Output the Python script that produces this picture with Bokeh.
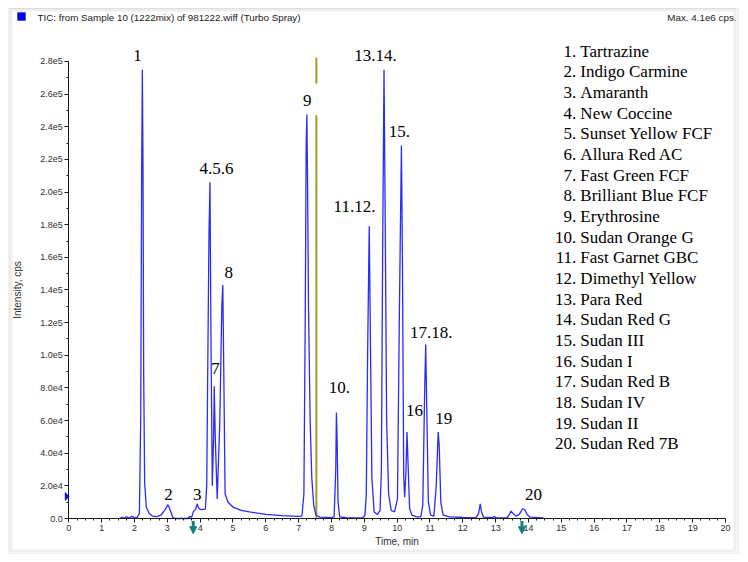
from bokeh.plotting import figure
from bokeh.models import (Label, BoxAnnotation, PolyAnnotation, Arrow, NormalHead,
                          FixedTicker, Range1d)
from bokeh.embed import file_html
from bokeh.resources import INLINE

# ---------------- data ----------------
time_min = [1.55, 1.62, 1.68, 1.76, 1.84, 1.92, 1.99, 2.08, 2.15, 2.19, 2.22, 2.24, 2.26, 2.28,
            2.31, 2.36, 2.45, 2.55, 2.68, 2.80, 2.92, 3.02, 3.09, 3.17, 3.25, 3.62, 3.68, 3.74,
            3.80, 3.86, 3.91, 3.95, 4.01, 4.16, 4.20, 4.24, 4.27, 4.30, 4.33, 4.37, 4.41, 4.43,
            4.46, 4.52, 4.60, 4.66, 4.69, 4.72, 4.76, 4.85, 5.00, 5.25, 5.50, 6.00, 6.50, 7.00,
            7.10, 7.16, 7.20, 7.23, 7.25, 7.27, 7.30, 7.35, 7.40, 7.46, 7.53, 7.65, 8.00, 8.08,
            8.13, 8.15, 8.17, 8.20, 8.25, 8.50, 8.95, 9.02, 9.06, 9.10, 9.15, 9.18, 9.23, 9.30,
            9.40, 9.48, 9.52, 9.56, 9.60, 9.63, 9.68, 9.74, 9.82, 9.92, 10.01, 10.07, 10.13,
            10.16, 10.20, 10.23, 10.27, 10.30, 10.33, 10.38, 10.45, 10.60, 10.72, 10.78, 10.84,
            10.87, 10.90, 10.95, 11.02, 11.12, 11.19, 11.25, 11.28, 11.33, 11.40, 11.60, 12.00,
            12.40, 12.48, 12.53, 12.57, 12.63, 12.90, 12.96, 13.02, 13.35, 13.43, 13.47, 13.53,
            13.62, 13.72, 13.82, 13.88, 13.96, 14.05, 14.45]
intensity = [0, 700, 200, 1000, 300, 1300, 500, 600, 3000, 60000, 215000, 275000, 215000, 90000,
             22000, 7000, 3000, 1500, 1200, 2000, 5000, 8500, 5000, 500, 0, 0, 1200, 800,
             4500, 5500, 9000, 6500, 5500, 5800, 20000, 110000, 175000, 206000, 110000, 20000, 50000, 81000,
             50000, 12000, 60000, 130000, 143000, 90000, 15000, 10000, 7000, 5000, 4000, 2500, 1800, 1300,
             1500, 15000, 120000, 230000, 247500, 210000, 130000, 60000, 25000, 8000, 2000, 800, 500, 1000,
             30000, 65000, 50000, 10000, 1000, 300, 500, 2000, 15000, 100000, 179000, 120000, 25000, 4000,
             2500, 5000, 30000, 170000, 275000, 200000, 60000, 15000, 5000, 4000, 12000, 130000, 228500,
             160000, 25000, 13000, 30000, 53000, 35000, 6000, 2000, 1000, 1000, 8000, 80000,
             106600, 70000, 10000, 2000, 1500, 20000, 53000, 45000, 10000, 2000, 1000, 600,
             500, 3000, 9000, 4000, 800, 500, 1200, 400, 500, 3000, 4500, 3000,
             1500, 2500, 6000, 5500, 2500, 800, 300]

x_tick_values = list(range(0, 21))
y_tick_values = [0, 20000, 40000, 60000, 80000, 100000, 120000, 140000, 160000, 180000,
                 200000, 220000, 240000, 260000, 280000]
y_tick_labels = ["0.0", "2.0e4", "4.0e4", "6.0e4", "8.0e4", "1.0e5", "1.2e5", "1.4e5", "1.6e5",
                 "1.8e5", "2.0e5", "2.2e5", "2.4e5", "2.6e5", "2.8e5"]

peak_labels = ["1", "2", "3", "4.5.6", "7", "8", "9", "10.", "11.12.", "13.14.", "15.", "16",
               "17.18.", "19", "20"]
peak_label_t = [2.09, 3.04, 3.91, 4.50, 4.47, 4.87, 7.26, 8.24, 8.70, 9.34, 10.07, 10.53,
                11.04, 11.42, 14.15]
peak_label_y = [283700, 14700, 14700, 214300, 91700, 150900, 256100, 80000, 191200, 283700,
                237300, 66200, 114100, 61500, 14700]

compound_numbers = ["1.", "2.", "3.", "4.", "5.", "6.", "7.", "8.", "9.", "10.", "11.", "12.",
                    "13.", "14.", "15.", "16.", "17.", "18.", "19.", "20."]
compound_names = ["Tartrazine", "Indigo Carmine", "Amaranth", "New Coccine", "Sunset Yellow FCF",
                  "Allura Red AC", "Fast Green FCF", "Brilliant Blue FCF", "Erythrosine",
                  "Sudan Orange G", "Fast Garnet GBC", "Dimethyl Yellow", "Para Red",
                  "Sudan Red G", "Sudan III", "Sudan I", "Sudan Red B", "Sudan IV", "Sudan II",
                  "Sudan Red 7B"]

header_text = "TIC: from Sample 10 (1222mix) of 981222.wiff (Turbo Spray)"
max_text = "Max. 4.1e6 cps."

cursor_time = 7.54
cursor_low = [0, 247000]
cursor_high = [266500, 282500]
marker_times = [3.79, 13.8]
threshold_level = 13500

# ---------------- figure (frame spans the whole canvas, axes at fixed positions) -------------
W, H = 740, 554
PX_PER_MIN = 32.835
UNITS_PER_PX = 612.69
X0_PX, Y0_PX = 68.3, 518.0
x_start = -X0_PX / PX_PER_MIN
x_end = x_start + W / PX_PER_MIN
y_start = -(H - Y0_PX) * UNITS_PER_PX
y_end = Y0_PX * UNITS_PER_PX

p = figure(width=W, height=H, x_range=Range1d(x_start, x_end), y_range=Range1d(y_start, y_end),
           output_backend="svg", toolbar_location=None, title=None,
           min_border_left=0, min_border_right=0, min_border_top=0, min_border_bottom=0)
p.grid.visible = False
p.outline_line_color = None
p.background_fill_color = "white"
p.border_fill_color = "white"

p.xaxis.fixed_location = 0
p.yaxis.fixed_location = 0
p.xaxis.ticker = FixedTicker(ticks=x_tick_values, minor_ticks=[i * 0.25 for i in range(81)])
p.xaxis.bounds = (0, 20)
p.yaxis.ticker = FixedTicker(ticks=y_tick_values, minor_ticks=[i * 10000 for i in range(29)])
p.yaxis.bounds = (0, 280000)
p.yaxis.major_label_overrides = dict(zip(y_tick_values, y_tick_labels))

for ax in (p.xaxis[0], p.yaxis[0]):
    ax.axis_line_color = "#1a1a1a"
    ax.major_tick_line_color = "#1a1a1a"
    ax.minor_tick_line_color = "#1a1a1a"
    ax.major_tick_in = 0
    ax.major_tick_out = 4
    ax.minor_tick_in = 0
    ax.minor_tick_out = 2
    ax.major_label_text_font = "Liberation Sans"
    ax.major_label_text_font_size = "9px"
    ax.major_label_text_color = "#303030"
    ax.major_label_standoff = 2
    ax.axis_label_text_font = "Liberation Sans"
    ax.axis_label_text_font_size = "10px"
    ax.axis_label_text_font_style = "normal"
    ax.axis_label_text_color = "#303030"

p.xaxis.axis_label = "Time, min"
p.xaxis.axis_label_standoff = 2
p.yaxis.axis_label = "Intensity, cps"
p.yaxis.axis_label_standoff = 14

# cursor line (olive)
p.segment(x0=[cursor_time, cursor_time], y0=[cursor_low[0], cursor_high[0]],
          x1=[cursor_time, cursor_time], y1=[cursor_low[1], cursor_high[1]],
          line_color="#a39a2a", line_width=2)

# chromatogram trace
p.line(time_min, intensity, line_color="#2b2bff", line_width=1.3)

# peak labels
for txt, tx, ty in zip(peak_labels, peak_label_t, peak_label_y):
    p.add_layout(Label(x=tx, y=ty, text=txt, text_align="center", text_baseline="middle",
                       text_font="Liberation Serif", text_font_size="17px", text_color="black"))

# compound list
legend_top = 286300
legend_step = 12665
for i, (num, name) in enumerate(zip(compound_numbers, compound_names)):
    yy = legend_top - i * legend_step
    p.add_layout(Label(x=15.455, y=yy, text=num, text_align="right", text_baseline="middle",
                       text_font="Liberation Serif", text_font_size="17px", text_color="black"))
    p.add_layout(Label(x=15.58, y=yy, text=name, text_align="left", text_baseline="middle",
                       text_font="Liberation Serif", text_font_size="17px", text_color="black"))

# header
p.add_layout(Label(x=-0.953, y=306960, text=header_text, text_align="left", text_baseline="middle",
                   text_font="Liberation Sans", text_font_size="9.8px", text_color="#202020"))
p.add_layout(Label(x=20.335, y=306960, text=max_text, text_align="right", text_baseline="middle",
                   text_font="Liberation Sans", text_font_size="9.8px", text_color="#202020"))

# blue square in header
p.add_layout(BoxAnnotation(left=17, right=25, top=12, bottom=20,
                           left_units="canvas", right_units="canvas",
                           top_units="canvas", bottom_units="canvas",
                           fill_color="#0000ff", fill_alpha=1.0,
                           line_color="#000060", line_width=1))

# window frame
p.add_layout(BoxAnnotation(left=10.5, right=734.5, top=9.5, bottom=550.5,
                           left_units="canvas", right_units="canvas",
                           top_units="canvas", bottom_units="canvas",
                           fill_alpha=0, line_color="#cbc7bf", line_width=3))
p.add_layout(BoxAnnotation(left=8.5, right=737.5, top=8, bottom=553.5,
                           left_units="canvas", right_units="canvas",
                           top_units="canvas", bottom_units="canvas",
                           fill_alpha=0, line_color="#a8a49c", line_width=1))

# threshold triangle on y axis
p.add_layout(PolyAnnotation(xs=[-0.115, 0.02, -0.115],
                            ys=[threshold_level + 2600, threshold_level, threshold_level - 2600],
                            fill_color="#1010ff", fill_alpha=1.0, line_color="#0000a0", line_width=1))

# teal markers below the time axis
for mt in marker_times:
    p.add_layout(Arrow(x_start=mt, y_start=-1500, x_end=mt, y_end=-9300,
                       line_color="#0f8080", line_width=3,
                       end=NormalHead(size=7, fill_color="#0f8080", line_color="#0f8080")))

open("out.html", "w").write(file_html(p, INLINE))
